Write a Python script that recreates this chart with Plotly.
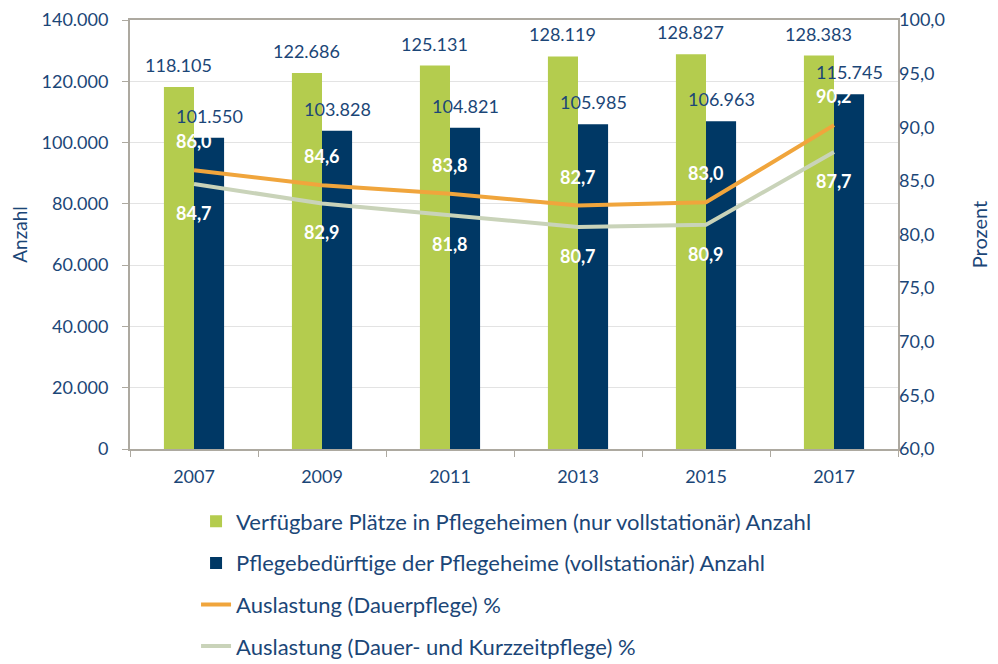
import plotly.graph_objects as go

years = ["2007", "2009", "2011", "2013", "2015", "2017"]
plaetze = [118105, 122686, 125131, 128119, 128827, 128383]
pflegebeduerftige = [101550, 103828, 104821, 105985, 106963, 115745]
dauer = [86.0, 84.6, 83.8, 82.7, 83.0, 90.2]
dauer_kurz = [84.7, 82.9, 81.8, 80.7, 80.9, 87.7]

names = [
    "Verfügbare Plätze in Pflegeheimen (nur vollstationär) Anzahl",
    "Pflegebedürftige der Pflegeheime (vollstationär) Anzahl",
    "Auslastung (Dauerpflege) %",
    "Auslastung (Dauer- und Kurzzeitpflege) %",
]

GREEN = "#B4CC4E"
NAVY = "#003865"
ORANGE = "#F0A53C"
SAGE = "#C9D3B9"
TXT = "#1B4677"
FONT = "Lato"
BARGAP = 0.53

def de_int(v):
    return f"{v:,}".replace(",", ".")

def de_dec(v):
    return f"{v:.1f}".replace(".", ",")

fig = go.Figure()
fig.add_trace(go.Bar(x=years, y=plaetze, name=names[0], marker_color=GREEN,
                     marker_line_width=0, legendgroup="a"))
fig.add_trace(go.Bar(x=years, y=pflegebeduerftige, name=names[1], marker_color=NAVY,
                     marker_line_width=0, legendgroup="b"))
fig.add_trace(go.Scatter(x=years, y=dauer, name=names[2], mode="lines",
                         line=dict(color=ORANGE, width=4), yaxis="y2", legendgroup="c"))
fig.add_trace(go.Scatter(x=years, y=dauer_kurz, name=names[3], mode="lines",
                         line=dict(color=SAGE, width=4), yaxis="y2", legendgroup="d"))

off = (1 - BARGAP) / 4
for i, v in enumerate(plaetze):
    fig.add_annotation(x=i - off, xref="x", y=v, yref="y", text=de_int(v),
                       showarrow=False, yshift=22,
                       font=dict(color=TXT, size=18, family=FONT))
for i, v in enumerate(pflegebeduerftige):
    fig.add_annotation(x=i + off, xref="x", y=v, yref="y", text=de_int(v),
                       showarrow=False, yshift=22,
                       font=dict(color=TXT, size=18, family=FONT))
for i, v in enumerate(dauer):
    fig.add_annotation(x=i, xref="x", y=v, yref="y2", text=de_dec(v),
                       showarrow=False, yshift=29,
                       font=dict(color="white", size=18, family=FONT, weight="bold"))
for i, v in enumerate(dauer_kurz):
    fig.add_annotation(x=i, xref="x", y=v, yref="y2", text=de_dec(v),
                       showarrow=False, yshift=-29,
                       font=dict(color="white", size=18, family=FONT, weight="bold"))

fig.update_layout(
    width=998, height=664,
    margin=dict(l=122, r=108, t=12, b=223, autoexpand=False),
    paper_bgcolor="white", plot_bgcolor="white",
    separators=",.",
    barmode="group", bargap=BARGAP, bargroupgap=0,
    font=dict(family=FONT, color=TXT, size=18),
    showlegend=True,
    legend=dict(orientation="v", x=0.086, xanchor="left", y=-0.12, yanchor="top",
                traceorder="grouped", tracegroupgap=10,
                font=dict(size=22, color=TXT, family=FONT)),
    xaxis=dict(type="category", range=[-0.5, len(years) - 0.5], automargin=False,
               showline=True, linecolor="#ADA9A0", linewidth=2,
               mirror=True, ticks="outside", tickson="boundaries", ticklen=6,
               ticklabelstandoff=10, ticklabeloverflow="allow",
               tickcolor="#ADA9A0", tickfont=dict(size=18, color=TXT)),
    yaxis=dict(range=[0, 140000], dtick=20000, tickformat=",.0f", automargin=False,
               showgrid=True, gridcolor="#E3E3E3", gridwidth=1,
               showline=True, linecolor="#ADA9A0", linewidth=2, mirror=True,
               ticks="outside", ticklen=6, tickcolor="#ADA9A0", ticklabelstandoff=10,
               ticklabeloverflow="allow",
               title=dict(text="Anzahl", font=dict(size=19, color=TXT), standoff=14),
               tickfont=dict(size=18, color=TXT), zeroline=False),
    yaxis2=dict(range=[60, 100], dtick=5, tickformat=".1f", overlaying="y", side="right",
                showgrid=False, showline=False, ticks="", automargin=False,
                ticklabeloverflow="allow",
                title=dict(text="Prozent", font=dict(size=20, color=TXT), standoff=29),
                tickfont=dict(size=18, color=TXT), zeroline=False),
)

fig.write_html("out.html")
